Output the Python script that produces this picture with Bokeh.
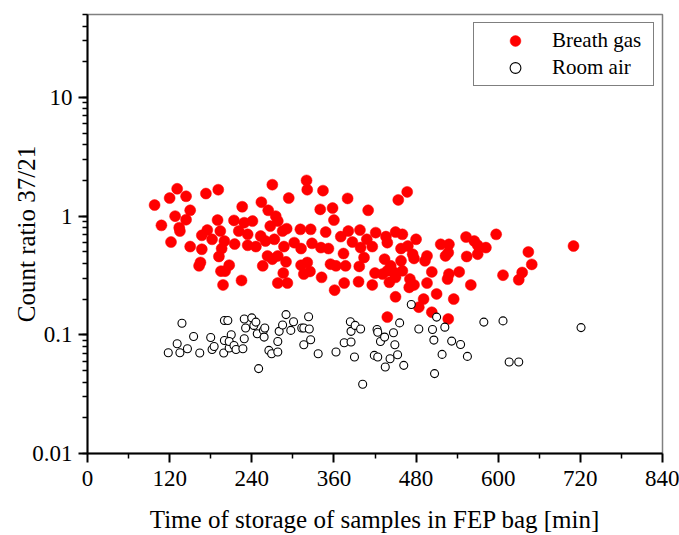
from bokeh.plotting import figure
from bokeh.models import (FixedTicker, LogTicker, CustomJSTickFormatter, Legend,
                          LegendItem, Range1d)
from bokeh.embed import file_html
from bokeh.resources import INLINE

# ---- data ----
breath_x = [98, 108, 120, 131, 144, 128, 144, 150, 134, 135, 122, 150, 173, 191, 167, 167,
            163, 165, 175, 182, 190, 194, 200, 196, 192, 195, 201, 207, 198, 214, 215, 221,
            226, 229, 234, 241, 234, 246, 225, 254, 264, 270, 253, 260, 267, 275, 278, 273,
            263, 256, 270, 278, 290, 286, 278, 292, 285, 291, 294, 287, 302, 311, 312, 312,
            316, 325, 321, 320, 321, 326, 328, 340, 344, 348, 341, 352, 342, 358, 360, 355,
            363, 361, 370, 374, 377, 375, 380, 381, 387, 396, 398, 399, 397, 404, 410, 408,
            416, 421, 416, 420,
            467, 454, 436, 450, 460, 480, 458, 438, 468, 475, 477, 496, 493, 434, 458, 443,
            438, 431, 448, 460, 450, 441, 471, 477, 470, 496, 503, 450, 491, 484, 510, 503,
            438, 527, 535, 528, 526, 543, 560, 516, 528, 523, 527, 553, 565, 570, 570, 554,
            582, 597, 607, 635, 630, 644, 649, 710]
breath_y = [1.24, 0.836, 1.42, 1.70, 1.47, 1.00, 0.933, 1.12, 0.80, 0.749, 0.605, 0.554, 1.55,
            1.67, 0.689, 0.526, 0.381, 0.407, 0.763, 0.638, 0.926, 0.749, 0.617, 0.533, 0.457,
            0.344, 0.344, 0.386, 0.263, 0.92, 0.582, 0.749, 1.20, 0.88, 0.702, 0.908, 0.568,
            0.554, 0.287, 1.31, 1.12, 1.84, 0.68, 0.617, 0.824, 1.00, 0.908, 0.638, 0.462,
            0.381, 0.434, 0.462, 0.412, 0.331, 0.273, 0.273, 0.749, 0.784, 1.42, 0.554, 0.598,
            0.774, 0.533, 0.386, 0.325, 0.342, 0.407, 2.00, 1.67, 0.774, 0.59, 1.14, 1.64,
            0.734, 0.543, 0.533, 0.305, 1.17, 0.926, 0.394, 0.381, 0.238, 0.672, 0.484, 0.381,
            0.273, 1.41, 0.749, 0.605, 0.28, 0.763, 0.543, 0.377, 0.448, 1.12, 0.638, 0.554,
            0.726, 0.263, 0.331,
            1.60, 1.37, 0.672, 0.734, 0.702, 0.638, 0.533, 0.598, 0.56, 0.478, 0.44, 0.462,
            0.42, 0.434, 0.42, 0.381, 0.346, 0.325, 0.335, 0.346, 0.305, 0.277, 0.295, 0.263,
            0.251, 0.273, 0.339, 0.209, 0.20, 0.171, 0.221, 0.155, 0.141, 0.136, 0.20, 0.325,
            0.295, 0.339, 0.263, 0.579, 0.579, 0.462, 0.493, 0.667, 0.617, 0.568, 0.478, 0.457,
            0.543, 0.702, 0.318, 0.335, 0.291, 0.499, 0.392, 0.56]

room_x = [118, 131, 135, 138, 146, 155, 164, 180, 182, 185, 199, 200, 200, 205, 207, 210,
          207, 214, 217, 227, 229, 229, 231, 240, 243, 246, 248, 250, 257, 259, 258, 265,
          269, 278, 278, 280, 285, 290, 297, 301, 313, 316, 316, 323, 324, 326, 337, 363,
          375, 384, 385, 385, 391, 390, 399, 402, 419, 423, 424, 424, 428, 473, 510, 456,
          434, 447, 449, 442, 453, 435, 462, 484, 504, 522, 506, 518, 507, 532, 545, 555,
          579, 607, 616, 630, 721]
room_y = [0.0706, 0.0841, 0.0706, 0.125, 0.0763, 0.0968, 0.0702, 0.0949, 0.0753, 0.0798,
          0.0702, 0.0896, 0.132, 0.132, 0.0774, 0.100, 0.0879, 0.0813, 0.0753, 0.0763,
          0.0926, 0.136, 0.114, 0.139, 0.120, 0.128, 0.102, 0.0519, 0.109, 0.114, 0.0957,
          0.0739, 0.0693, 0.0716, 0.0879, 0.107, 0.121, 0.148, 0.109, 0.129, 0.114, 0.114,
          0.0825, 0.142, 0.112, 0.0908, 0.0693, 0.0716, 0.0857, 0.129, 0.107, 0.0869, 0.120,
          0.065, 0.112, 0.0383, 0.0671, 0.111, 0.105, 0.065, 0.0879, 0.180, 0.141, 0.126,
          0.0957, 0.104, 0.0825, 0.0629, 0.068, 0.0536, 0.0553, 0.112, 0.111, 0.116, 0.0903,
          0.0684, 0.0471, 0.0885, 0.0829, 0.0658, 0.128, 0.131, 0.059, 0.059, 0.115]

x_ticks = [0, 120, 240, 360, 480, 600, 720, 840]
x_minor = [60, 180, 300, 420, 540, 660, 780]
series_labels = ["Breath gas", "Room air"]
x_title = "Time of storage of samples in FEP bag [min]"
y_title = "Count ratio 37/21"

FONT = "'Liberation Serif', 'Times New Roman', serif"

p = figure(width=679, height=535, y_axis_type="log",
           x_range=Range1d(0, 840), y_range=Range1d(0.01, 50),
           output_backend="svg", toolbar_location=None,
           min_border_left=87, min_border_right=17, min_border_top=14,
           min_border_bottom=80)
p.background_fill_color = "white"
p.border_fill_color = "white"
p.outline_line_color = "#808080"
p.outline_line_width = 1.5
p.xgrid.visible = False
p.ygrid.visible = False

r1 = p.scatter(x=breath_x, y=breath_y, size=11, marker="circle",
               fill_color="#ff0000", line_color="#ff0000", line_width=0.5)
r2 = p.scatter(x=room_x, y=room_y, size=8, marker="circle",
               fill_color="white", line_color="black", line_width=1.1)

# axes
p.xaxis.ticker = FixedTicker(ticks=x_ticks, minor_ticks=x_minor)
p.yaxis.ticker = LogTicker(num_minor_ticks=10)
p.yaxis.formatter = CustomJSTickFormatter(code="return String(parseFloat(tick.toPrecision(6)));")

for ax in (p.xaxis[0], p.yaxis[0]):
    ax.axis_line_color = "black"
    ax.axis_line_width = 2
    ax.major_tick_line_color = "black"
    ax.minor_tick_line_color = "black"
    ax.major_tick_line_width = 2
    ax.minor_tick_line_width = 1.5
    ax.major_tick_in = 0
    ax.minor_tick_in = 0
    ax.major_tick_out = 9
    ax.minor_tick_out = 5
    ax.major_label_text_font = FONT
    ax.major_label_text_font_size = "23px"
    ax.major_label_text_color = "black"
    ax.axis_label_text_font = FONT
    ax.axis_label_text_font_size = "25px"
    ax.axis_label_text_font_style = "normal"
    ax.axis_label_text_color = "black"

p.xaxis.axis_label = x_title
p.yaxis.axis_label = y_title
p.xaxis.major_label_standoff = 8
p.xaxis.axis_label_standoff = 17
p.yaxis.major_label_standoff = 6
p.yaxis.axis_label_standoff = -11

legend = Legend(items=[LegendItem(label=series_labels[0], renderers=[r1]),
                       LegendItem(label=series_labels[1], renderers=[r2])],
                location="top_right", margin=8, padding=4, spacing=0,
                glyph_width=74, glyph_height=27, label_height=27, label_width=97,
                label_standoff=-7,
                label_text_font=FONT, label_text_font_size="21px",
                label_text_color="black",
                border_line_color="black", border_line_width=1,
                background_fill_color="white", background_fill_alpha=1.0)
p.add_layout(legend)

open("out.html", "w").write(file_html(p, INLINE))
